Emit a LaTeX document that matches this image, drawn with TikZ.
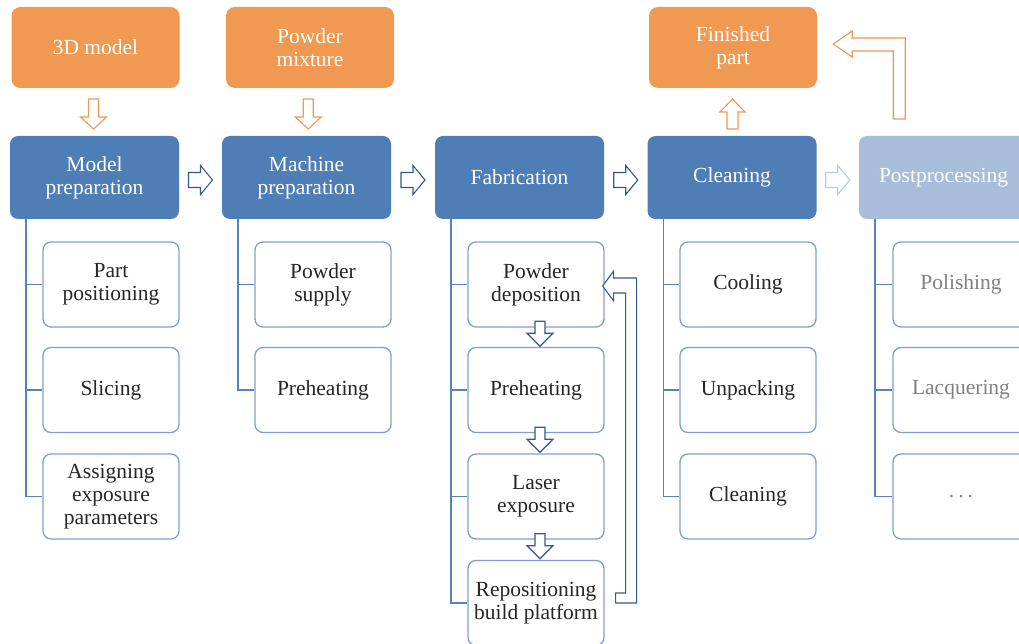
\documentclass[tikz,border=0pt]{standalone}
\usepackage{fontspec}
\setmainfont{Liberation Serif}
\usetikzlibrary{calc}

\definecolor{mainblue}{RGB}{79,126,182}
\definecolor{paleblue}{RGB}{167,189,218}
\definecolor{orangefill}{RGB}{239,153,82}
\definecolor{orangeline}{RGB}{240,152,84}
\definecolor{subline}{RGB}{126,160,208}
\definecolor{treeline}{RGB}{88,130,190}
\definecolor{arrowblue}{RGB}{52,88,150}
\definecolor{arrowpale}{RGB}{184,202,228}
\definecolor{textdark}{RGB}{38,38,38}
\definecolor{textgray}{RGB}{128,128,128}

\tikzset{
  pics/hollow/.style args={#1/#2/#3/#4}{code={
    \draw[pic actions] ({-#1/2},{-#2/2}) -- ({#1/2-#4},{-#2/2}) -- ({#1/2-#4},{-#3/2})
      -- ({#1/2},0) -- ({#1/2-#4},{#3/2}) -- ({#1/2-#4},{#2/2}) -- ({-#1/2},{#2/2}) -- cycle;
  }},
}

\begin{document}
\begin{tikzpicture}[x=1pt,y=1pt,
  every node/.style={font=\fontsize{21.5}{23}\selectfont, align=center, inner sep=0pt},
  mainbox/.style={rounded corners=8pt, fill=mainblue, text=white,
    minimum width=169pt, minimum height=83pt},
  postbox/.style={mainbox, fill=paleblue},
  srcbox/.style={rounded corners=9pt, fill=orangefill, text=white,
    minimum width=168pt, minimum height=81pt},
  subbox/.style={rounded corners=8pt, draw=subline, line width=1.3pt, fill=white,
    text=textdark, minimum width=136pt, minimum height=85pt},
  greysub/.style={subbox, text=textgray},
  tree/.style={draw=treeline, line width=1.5pt},
  bluearrow/.style={draw=arrowblue, fill=white, line width=1.1pt, line join=miter},
  palearrow/.style={draw=arrowpale, fill=white, line width=1.1pt, line join=miter},
  orangearrow/.style={draw=orangeline, fill=white, line width=1.1pt, line join=miter},
]
\useasboundingbox (0,0) rectangle (1019,643);
\clip (0,0) rectangle (1019,643);

% top row: inputs and result
\node[srcbox] (tdm)  at (95.5,595.5) {3D model};
\node[srcbox] (pmix) at (310,595.5) {Powder\\mixture};
\node[srcbox] (fin)  at (733,595.5) {Finished\\part};

% process stages
\node[mainbox] (modp)  at (94.5,465.5) {Model\\preparation};
\node[mainbox] (macp)  at (306.5,465.5) {Machine\\preparation};
\node[mainbox] (fab)   at (519.5,465.5) {Fabrication};
\node[mainbox] (clean) at (732,465.5) {Cleaning};
\node[postbox] (post)  at (943.5,465.5) {Postprocessing};

% sub-steps
\node[subbox] (pp)  at (111,358.5) {Part\\positioning};
\node[subbox] (sl)  at (111,253) {Slicing};
\node[subbox] (aep) at (111,146.5) {Assigning\\exposure\\parameters};

\node[subbox] (ps)  at (323,358.5) {Powder\\supply};
\node[subbox] (mph) at (323,253) {Preheating};

\node[subbox] (pd)  at (536,358.5) {Powder\\deposition};
\node[subbox] (fph) at (536,253) {Preheating};
\node[subbox] (le)  at (536,146.5) {Laser\\exposure};
\node[subbox] (rbp) at (536,40) {Repositioning\\build platform};

\node[subbox] (cool) at (748,358.5) {Cooling};
\node[subbox] (unp)  at (748,253) {Unpacking};
\node[subbox] (cln)  at (748,146.5) {Cleaning};

\node[greysub] (pol) at (961,358.5) {Polishing};
\node[greysub] (lac) at (961,253) {Lacquering};
\node[greysub] (etc) at (961,146.5) {.\hspace{4pt}.\hspace{4pt}.};

% tree connectors
\foreach \parent/\child in {modp/pp, modp/sl, modp/aep, macp/ps, macp/mph,
    fab/pd, fab/fph, fab/le, fab/rbp, clean/cool, clean/unp, clean/cln,
    post/pol, post/lac, post/etc}
  \draw[tree] ([xshift=16pt]\parent.south west) |- (\child.west);

% flow between stages
\pic[bluearrow] at ($(modp.east)!0.5!(macp.west)+(0,-2.5)$) {hollow=24/15/29/12};
\pic[bluearrow] at ($(macp.east)!0.5!(fab.west)+(0,-2.5)$) {hollow=24/15/29/12};
\pic[bluearrow] at ($(fab.east)!0.5!(clean.west)+(0,-2.5)$) {hollow=24/15/29/12};
\pic[palearrow] at ($(clean.east)!0.5!(post.west)+(0,-2.5)$) {hollow=24/15/29/12};

% inputs into stages
\pic[orangearrow, rotate=-90] at ($(tdm.south)!0.5!(modp.north)+(-1.5,-2)$) {hollow=30/10/26/12};
\pic[orangearrow, rotate=-90] at ($(pmix.south)!0.5!(macp.north)+(0,-2)$) {hollow=30/10/26/12};
\pic[orangearrow, rotate=90] at ($(clean.north)!0.5!(fin.south)+(0,-2)$) {hollow=30/11/25/13};

% steps inside fabrication
\pic[bluearrow, rotate=-90] at ($(pd.south)!0.5!(fph.north)+(4,3.5)$) {hollow=25/10/26/13};
\pic[bluearrow, rotate=-90] at ($(fph.south)!0.5!(le.north)+(4,3.5)$) {hollow=25/10/26/13};
\pic[bluearrow, rotate=-90] at ($(le.south)!0.5!(rbp.north)+(4,3.5)$) {hollow=25/10/26/13};

% layer loop back to powder deposition
\draw[bluearrow] ([shift={(11,10)}]rbp.east) -- ([shift={(21,10)}]rbp.east)
  -- ([shift={(21,-8.5)}]pd.east) -- ([shift={(9,-8.5)}]pd.east)
  -- ([shift={(9,-16.5)}]pd.east) -- ([shift={(-2,-1.5)}]pd.east)
  -- ([shift={(9,13.5)}]pd.east) -- ([shift={(9,6.5)}]pd.east)
  -- ([shift={(32,6.5)}]pd.east) -- ([shift={(32,0)}]rbp.east)
  -- ([shift={(11,0)}]rbp.east) -- cycle;

% postprocessing result back to the finished part
\draw[orangearrow] ([shift={(76,-71.5)}]fin.east) -- ([shift={(88,-71.5)}]fin.east)
  -- ([shift={(88,9.5)}]fin.east) -- ([shift={(35,9.5)}]fin.east)
  -- ([shift={(35,16.5)}]fin.east) -- ([shift={(16,3.5)}]fin.east)
  -- ([shift={(35,-9.5)}]fin.east) -- ([shift={(35,-3.5)}]fin.east)
  -- ([shift={(76,-3.5)}]fin.east) -- cycle;
\end{tikzpicture}
\end{document}
